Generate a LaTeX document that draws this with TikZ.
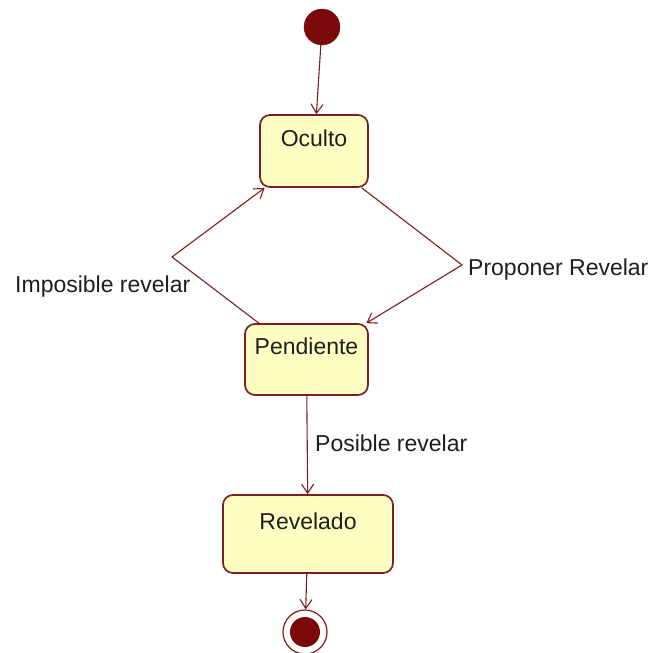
\documentclass[tikz,border=0pt]{standalone}
\usepackage{fontspec}
\setmainfont{Liberation Sans}
\usetikzlibrary{arrows.meta}
\definecolor{umlred}{HTML}{7A0A0A}
\definecolor{umlline}{HTML}{7A1F1F}
\definecolor{umlfill}{HTML}{FFFFC4}
\definecolor{umltext}{HTML}{1E1E1E}
\begin{document}
\begin{tikzpicture}[x=1pt,y=-1pt,
  font=\fontsize{23}{27}\selectfont,
  state/.style={draw=umlline, fill=umlfill, line width=1.7pt, rounded corners=10pt,
    inner sep=0pt, text=umltext, text height=31pt, text depth=41pt},
  trans/.style={draw=umlline, line width=1.1pt,
    -{Straight Barb[length=9pt,width=12pt,line width=1.1pt]}},
  lbl/.style={text=umltext, inner sep=0pt}]
  \useasboundingbox[fill=white] (0,0) rectangle (654,653);

  % initial and final pseudo-states
  \node[circle, fill=umlred, draw=umlred, minimum size=36pt, inner sep=0pt] (init) at (322,27) {};
  \node[circle, fill=white, draw=umlline, line width=1.2pt, minimum size=44pt, inner sep=0pt] (fin) at (305,632) {};
  \node[circle, fill=umlred, minimum size=30pt, inner sep=0pt] (findot) at (305,632) {};

  % states
  \node[state, minimum width=108pt, minimum height=72pt] (oc) at (314,151) {Oculto};
  \node[state, minimum width=123pt, minimum height=71pt, text height=30pt, text depth=41pt] (pend) at (306.5,359.5) {Pendiente};
  \node[state, minimum width=170pt, minimum height=78pt, text height=34pt, text depth=44pt] (rev) at (308,534) {Revelado};

  % bend points of the two diagonal transitions
  \coordinate (bl) at (172,257);
  \coordinate (br) at (462,265);

  % transitions
  \draw[trans] (init) -- (oc);
  \draw[trans] (oc) -- (br) -- (pend);
  \draw[trans] (pend) -- (bl) -- (oc);
  \draw[trans] (pend) -- (rev);
  \draw[trans] (rev) -- (fin);

  % transition labels
  \node[lbl, anchor=west] (limp) at (15,287) {Imposible revelar};
  \node[lbl, anchor=west] (lprop) at (468,270) {Proponer Revelar};
  \node[lbl, anchor=west] (lpos) at (315,443) {Posible revelar};
\end{tikzpicture}
\end{document}
